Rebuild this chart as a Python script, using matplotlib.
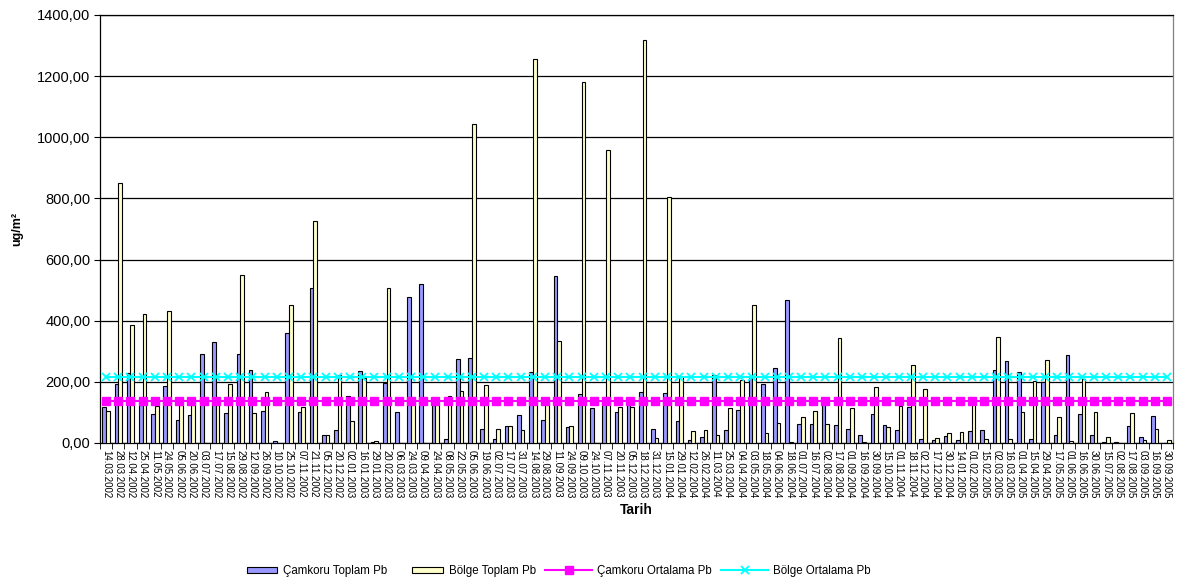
import numpy as np
import matplotlib
matplotlib.use("Agg")
import matplotlib.pyplot as plt
from matplotlib.ticker import FuncFormatter
from matplotlib.legend_handler import HandlerPatch
from matplotlib.patches import Rectangle

plt.rcParams["font.family"] = ["Liberation Sans", "DejaVu Sans"]

dates = [
    "14.03.2002", "28.03.2002", "12.04.2002", "25.04.2002", "11.05.2002", "24.05.2002",
    "05.06.2002", "20.06.2002", "03.07.2002", "17.07.2002", "15.08.2002", "29.08.2002",
    "12.09.2002", "26.09.2002", "10.10.2002", "25.10.2002", "07.11.2002", "21.11.2002",
    "05.12.2002", "20.12.2002", "02.01.2003", "16.01.2003", "29.01.2003", "20.02.2003",
    "06.03.2003", "24.03.2003", "09.04.2003", "24.04.2003", "08.05.2003", "22.05.2003",
    "05.06.2003", "19.06.2003", "02.07.2003", "17.07.2003", "31.07.2003", "14.08.2003",
    "29.08.2003", "11.09.2003", "24.09.2003", "09.10.2003", "24.10.2003", "07.11.2003",
    "20.11.2003", "05.12.2003", "18.12.2003", "31.12.2003", "15.01.2004", "29.01.2004",
    "12.02.2004", "26.02.2004", "11.03.2004", "25.03.2004", "04.04.2004", "03.05.2004",
    "18.05.2004", "04.06.2004", "18.06.2004", "01.07.2004", "16.07.2004", "02.08.2004",
    "17.08.2004", "01.09.2004", "16.09.2004", "30.09.2004", "15.10.2004", "01.11.2004",
    "18.11.2004", "02.12.2004", "17.12.2004", "30.12.2004", "14.01.2005", "01.02.2005",
    "15.02.2005", "02.03.2005", "16.03.2005", "01.04.2005", "15.04.2005", "29.04.2005",
    "17.05.2005", "01.06.2005", "16.06.2005", "30.06.2005", "15.07.2005", "02.08.2005",
    "17.08.2005", "03.09.2005", "16.09.2005", "30.09.2005",
]

# Çamkoru Toplam Pb
camkoru = [
    118, 194, 230, 125, 94, 185, 75, 90, 290, 329, 97, 292,
    240, 104, 6, 359, 101, 508, 27, 43, 153, 234, 4, 195,
    102, 479, 520, 125, 14, 276, 278, 46, 14, 55, 93, 231,
    74, 545, 52, 161, 115, 130, 100, 130, 167, 46, 164, 71,
    11, 19, 224, 43, 108, 215, 194, 244, 468, 62, 62, 135,
    60, 46, 26, 96, 58, 44, 118, 12, 10, 24, 10, 40,
    44, 239, 268, 233, 13, 198, 26, 287, 95, 27, 2, 2,
    56, 20, 89, 0,
]

# Bölge Toplam Pb
bolge = [
    106, 851, 387, 422, 120, 431, 125, 125, 0, 125, 193, 549,
    97, 168, 0, 450, 118, 727, 25, 221, 73, 212, 8, 507,
    0, 130, 0, 125, 153, 171, 1045, 189, 45, 55, 41, 1257,
    130, 333, 55, 1180, 0, 960, 117, 117, 1317, 16, 806, 215,
    39, 44, 25, 116, 207, 453, 33, 64, 3, 84, 104, 63,
    343, 113, 3, 182, 52, 120, 255, 178, 15, 33, 37, 128,
    13, 346, 13, 100, 202, 270, 84, 5, 208, 100, 21, 1,
    99, 10, 45, 10,
]

camkoru_ort = 137
bolge_ort = 215

x = np.arange(len(dates))
w = 0.3

fig = plt.figure(figsize=(11.77, 5.83), dpi=100)
ax = fig.add_axes([100 / 1177, 1 - 443 / 583, 1073 / 1177, 428 / 583])

b1 = ax.bar(x - w / 2, camkoru, w, color="#9999FF", edgecolor="black", linewidth=0.8,
            label="Çamkoru Toplam Pb", zorder=3)
b2 = ax.bar(x + w / 2, bolge, w, color="#FFFFCC", edgecolor="black", linewidth=0.8,
            label="Bölge Toplam Pb", zorder=3)
l1, = ax.plot(x, np.full(len(x), camkoru_ort), color="#FF00FF", marker="s", markersize=5.5,
              linewidth=1.5, label="Çamkoru Ortalama Pb", zorder=4)
l2, = ax.plot(x, np.full(len(x), bolge_ort), color="#00FFFF", marker="x", markersize=6,
              markeredgewidth=1.3, linewidth=1.5, label="Bölge Ortalama Pb", zorder=4)

ax.set_xlim(-0.5, len(x) - 0.5)
ax.set_ylim(0, 1400)
ax.set_yticks(np.arange(0, 1401, 200))
ax.yaxis.set_major_formatter(FuncFormatter(lambda v, p: f"{v:.2f}".replace(".", ",")))
ax.grid(axis="y", color="black", linewidth=0.9, zorder=0)
ax.set_axisbelow(True)

ax.set_xticks(x)
ax.set_xticklabels(dates, rotation=270, fontsize=7)
ax.set_xticks(np.arange(-0.5, len(x), 1), minor=True)
ax.tick_params(axis="x", which="major", length=0, pad=5)
ax.tick_params(axis="x", which="minor", length=4, color="black")
ax.tick_params(axis="y", labelsize=10.5, length=4, pad=3)

for s in ax.spines.values():
    s.set_color("black")
    s.set_linewidth(0.9)
ax.spines["right"].set_color("#808080")

ax.set_xlabel("Tarih", fontsize=10, fontweight="bold", labelpad=3)
ax.set_ylabel("ug/m²", fontsize=9, fontweight="bold", labelpad=10)


def small_box(legend, orig_handle, xdescent, ydescent, width, height, fontsize):
    bw = 22
    return Rectangle((width - bw - 1 - xdescent, -ydescent + 1), bw, height - 2)


fig.legend([b1.patches[0], b2.patches[0], l1, l2],
           ["Çamkoru Toplam Pb", "Bölge Toplam Pb", "Çamkoru Ortalama Pb", "Bölge Ortalama Pb"],
           loc="center", bbox_to_anchor=(551 / 1177, 1 - 571 / 583), ncol=4, frameon=False,
           fontsize=8.3, handlelength=4.1, handletextpad=0.4, columnspacing=0.8,
           handler_map={Rectangle: HandlerPatch(patch_func=small_box)})

fig.savefig("out.png", dpi=100)
